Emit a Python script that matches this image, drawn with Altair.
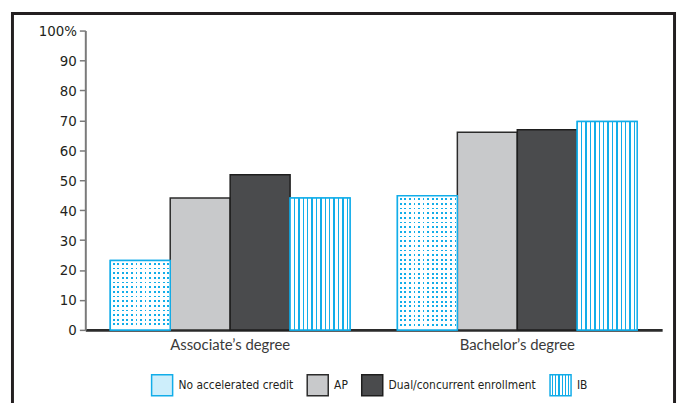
import json
import altair as alt
import pandas as pd

# ---------------- data ----------------
degrees = ["Associate’s degree", "Bachelor’s degree"]
series = ["No accelerated credit", "AP", "Dual/concurrent enrollment", "IB"]
associate_vals = [23.2, 44.1, 51.8, 44.1]
bachelor_vals = [44.8, 66.0, 66.9, 69.6]
y_ticks = [0, 10, 20, 30, 40, 50, 60, 70, 80, 90, 100]

rows = []
for d, vals in zip(degrees, [associate_vals, bachelor_vals]):
    for s, v in zip(series, vals):
        rows.append({"degree": d, "series": s, "value": v})
df = pd.DataFrame(rows)

# ---------------- styling ----------------
BLUE = "#12ade9"
PALE = "#cdeefb"
AP_FILL = "#c8c9cb"
DUAL_FILL = "#4a4b4d"
DARK = "#231f20"
COND = "Liberation Sans Narrow, Arial Narrow, DejaVu Sans Condensed, Roboto Condensed, sans-serif"

W, H = 582, 302
PX_PER_UNIT = H / 100.0
P_INNER, P_OUTER = 0.165, 0.087
STEP = W / (len(degrees) - P_INNER + 2 * P_OUTER)
BAR_W = STEP * (1 - P_INNER) / len(series)


def stripe_stops(n, start, period, width, total, on, off):
    stops = [alt.GradientStop(color=off, offset=0)]
    for i in range(n):
        a = min(max((start + i * period) / total, 0), 1)
        b = min(max((start + i * period + width) / total, 0), 1)
        stops += [
            alt.GradientStop(color=off, offset=a),
            alt.GradientStop(color=on, offset=a),
            alt.GradientStop(color=on, offset=b),
            alt.GradientStop(color=off, offset=b),
        ]
    stops.append(alt.GradientStop(color=off, offset=1))
    return stops


def h_grad(stops):
    return alt.LinearGradient(gradient="linear", stops=stops, x1=0, x2=1, y1=0, y2=0)


def v_grad(stops):
    return alt.LinearGradient(gradient="linear", stops=stops, x1=0, x2=0, y1=0, y2=1)


# legend IB symbol gradient (through an expression so the scale can carry it)
def legend_stripes_expr(n, total=21.0, start=2.0, period=3.2, width=1.2):
    stops = [{"offset": 0, "color": "white"}]
    for i in range(n):
        a = (start + i * period) / total
        b = (start + i * period + width) / total
        stops += [{"offset": a, "color": "white"}, {"offset": a, "color": BLUE},
                  {"offset": b, "color": BLUE}, {"offset": b, "color": "white"}]
    stops.append({"offset": 1, "color": "white"})
    g = {"gradient": "linear", "x1": 0, "y1": 0, "x2": 1, "y2": 0, "stops": stops}
    return json.dumps(g)


x_enc = alt.X("degree:N", sort=degrees, title=None,
              scale=alt.Scale(paddingInner=P_INNER, paddingOuter=P_OUTER),
              axis=alt.Axis(labelAngle=0, ticks=False, domainColor="#2b2b2b", domainWidth=3,
                            labelPadding=8, labelFont="Lato", labelFontSize=15,
                            labelColor="#3a3a3a"))
xo_enc = alt.XOffset("series:N", sort=series, scale=alt.Scale(paddingInner=0, paddingOuter=0))
y_enc = alt.Y("value:Q", title=None, scale=alt.Scale(domain=[0, 100], nice=False),
              axis=alt.Axis(values=y_ticks, grid=False, domainColor="#7a7a7a", domainWidth=2,
                            tickColor="#7a7a7a", tickWidth=1.5, tickSize=6, labelPadding=3,
                            labelFont=COND, labelFontSize=15, labelColor=DARK,
                            labelExpr="datum.value == 100 ? '100%' : datum.label"))

legend = alt.Legend(orient="none", legendX=66, legendY=346, direction="horizontal", columns=4,
                    title=None, symbolType="square", symbolSize=450, symbolStrokeWidth=1.5,
                    labelFont=COND, labelFontSize=12, labelColor=DARK, labelOffset=5,
                    columnPadding=10, padding=0, labelLimit=300)

fill_range = [PALE, AP_FILL, DUAL_FILL, alt.ExprRef(expr=legend_stripes_expr(6))]
stroke_range = [BLUE, "#2b2b2b", "#1e1e1e", BLUE]

base = alt.Chart(df).mark_bar(strokeWidth=1.5).encode(
    x=x_enc, xOffset=xo_enc, y=y_enc,
    fill=alt.Fill("series:N", sort=series, scale=alt.Scale(domain=series, range=fill_range), legend=legend),
    stroke=alt.Stroke("series:N", sort=series, scale=alt.Scale(domain=series, range=stroke_range), legend=legend),
)

layers = [base]

# dotted bars: blue columns, then white mask with transparent rows
col_grad = h_grad(stripe_stops(13, 2.5, 4.6, 1.8, BAR_W, BLUE, "white"))
layers.append(
    alt.Chart(df).transform_filter(alt.datum.series == series[0])
    .mark_bar(fill=col_grad).encode(x=x_enc, xOffset=xo_enc, y=y_enc)
)
for d, vals in zip(degrees, [associate_vals, bachelor_vals]):
    h = vals[0] * PX_PER_UNIT
    n_rows = int((h - 2.5 - 2.0) // 4.7) + 1
    mask = v_grad(stripe_stops(n_rows, 2.5, 4.7, 1.8, h, "rgba(255,255,255,0)", "white"))
    layers.append(
        alt.Chart(df).transform_filter((alt.datum.series == series[0]) & (alt.datum.degree == d))
        .mark_bar(fill=mask).encode(x=x_enc, xOffset=xo_enc, y=y_enc)
    )

# IB vertical stripes
ib_grad = h_grad(stripe_stops(13, 3.8, 4.43, 1.4, BAR_W, BLUE, "white"))
layers.append(
    alt.Chart(df).transform_filter(alt.datum.series == series[3])
    .mark_bar(fill=ib_grad).encode(x=x_enc, xOffset=xo_enc, y=y_enc)
)

# outlines on top of the patterned bars
layers.append(
    alt.Chart(df).transform_filter((alt.datum.series == series[0]) | (alt.datum.series == series[3]))
    .mark_bar(filled=False, stroke=BLUE, strokeWidth=1.5).encode(x=x_enc, xOffset=xo_enc, y=y_enc)
)

# outer frame
frame = alt.Chart(alt.Data(values=[{}])).mark_rect(filled=False, stroke=DARK, strokeWidth=3).encode(
    x=alt.value(-73.5), x2=alt.value(594.5), y=alt.value(-17.3), y2=alt.value(420)
)
layers.append(frame)

chart = alt.layer(*layers).properties(
    width=W, height=H,
    autosize=alt.AutoSizeParams(type="none"),
    padding={"left": 78, "top": 21, "right": 16, "bottom": 72},
    background="white",
).configure_view(stroke=None)

chart.save("out.html", embed_options={"renderer": "svg", "actions": False})
